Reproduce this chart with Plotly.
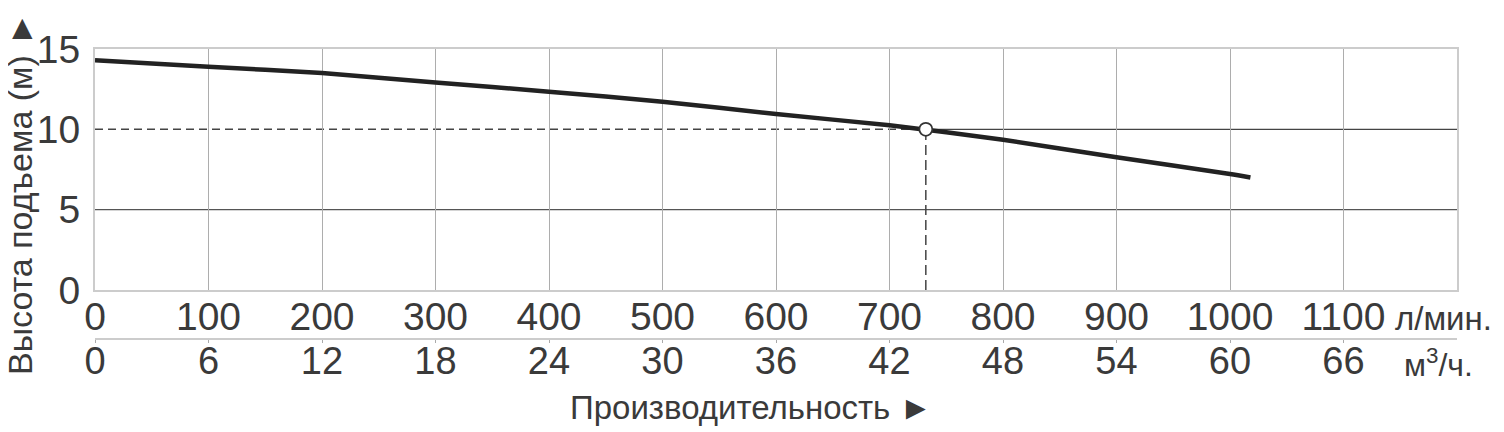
import plotly.graph_objects as go

# ---- data ----
flow_lpm = [0, 100, 200, 300, 400, 500, 600, 700, 800, 900, 1000, 1018]
head_m = [14.3, 13.9, 13.5, 12.92, 12.34, 11.72, 10.95, 10.25, 9.35, 8.26, 7.22, 7.0]

op_flow = [732]
op_head = [10]

grid_heads = [5]

x1_ticks = [0, 100, 200, 300, 400, 500, 600, 700, 800, 900, 1000, 1100]
x1_labels = [str(v) for v in x1_ticks]
x2_ticks = [0, 6, 12, 18, 24, 30, 36, 42, 48, 54, 60, 66]
x2_labels = [str(v) for v in x2_ticks]
y_ticks = [0, 5, 10, 15]

x1_range = [0, 1200]
x2_range = [0, 72]
y_range = [0, 15]

FONT = "Liberation Sans, Arial, sans-serif"
TXT = "#3a3a3a"

OFF = 8  # page body margin
W, H = 1504 - OFF, 432 - OFF


def fx(px):
    return px - OFF


ML = fx(95)
MT = fx(49)
MR = W - fx(1457)
MB = H - fx(345)
PW = W - ML - MR
PH = H - MT - MB


def px_x(px):
    return (fx(px) - ML) / PW


def px_y(py):
    return ((H - MB) - fx(py)) / PH


ydom0 = px_y(290)

fig = go.Figure()

fig.add_trace(go.Scatter(
    x=flow_lpm, y=head_m, mode="lines",
    line=dict(color="#222222", width=4.5, shape="spline", smoothing=0.6),
    hoverinfo="skip", showlegend=False, xaxis="x", yaxis="y",
))

shapes = []
for g in grid_heads:
    shapes.append(dict(type="line", xref="x", yref="y", x0=x1_range[0], x1=x1_range[1],
                       y0=g, y1=g, line=dict(color="#555555", width=1.4), layer="below"))
shapes.append(dict(type="line", xref="x", yref="y", x0=op_flow[0], x1=x1_range[1],
                   y0=op_head[0], y1=op_head[0], line=dict(color="#444444", width=1.4), layer="below"))
shapes.append(dict(type="line", xref="x", yref="y", x0=x1_range[0], x1=op_flow[0],
                   y0=op_head[0], y1=op_head[0],
                   line=dict(color="#444444", width=1.5, dash="8px,5px"), layer="below"))
shapes.append(dict(type="line", xref="x", yref="y", x0=op_flow[0], x1=op_flow[0],
                   y0=y_range[0], y1=op_head[0],
                   line=dict(color="#444444", width=1.5, dash="10px,5px"), layer="below"))

fig.add_trace(go.Scatter(
    x=op_flow, y=op_head, mode="markers",
    marker=dict(size=13, color="white", line=dict(color="#333333", width=1.8)),
    hoverinfo="skip", showlegend=False, xaxis="x", yaxis="y",
))

fig.add_trace(go.Scatter(x=x2_range, y=[None, None], mode="lines", xaxis="x2", yaxis="y",
                         showlegend=False, hoverinfo="skip"))

fig.update_layout(
    width=W, height=H,
    margin=dict(l=ML, r=MR, t=MT, b=MB, pad=0),
    paper_bgcolor="white", plot_bgcolor="white",
    font=dict(family=FONT, color=TXT),
    shapes=shapes,
    xaxis=dict(
        range=x1_range, tickmode="array", tickvals=x1_ticks, ticktext=x1_labels,
        showgrid=True, gridcolor="#adadad", gridwidth=1.4,
        showline=True, linecolor="#cccccc", linewidth=2, mirror=True,
        ticks="", zeroline=False, anchor="y",
        tickfont=dict(size=39, color=TXT, family=FONT), ticklabelstandoff=-9,
    ),
    xaxis2=dict(
        range=x2_range, tickmode="array", tickvals=x2_ticks, ticktext=x2_labels,
        overlaying="x", anchor="free", position=px_y(339), side="bottom",
        showgrid=False, zeroline=False,
        showline=True, linecolor="#cccccc", linewidth=1.5,
        ticks="outside", ticklen=3, tickcolor="#aaaaaa", tickwidth=1,
        tickfont=dict(size=38, color=TXT, family=FONT), ticklabelstandoff=-14,
    ),
    yaxis=dict(
        range=y_range, tickmode="array", tickvals=y_ticks,
        domain=[ydom0, 1],
        showgrid=False, zeroline=False,
        showline=True, linecolor="#cccccc", linewidth=2, mirror=True,
        ticks="", tickfont=dict(size=39, color=TXT, family=FONT), ticklabelstandoff=5,
    ),
    annotations=[
        dict(text="Высота подъема (м) ►", textangle=-90, xref="paper", yref="paper",
             x=px_x(20), y=px_y(194),
             xanchor="center", yanchor="middle", showarrow=False, borderpad=0,
             font=dict(size=34, color=TXT, family=FONT)),
        dict(text="Производительность ►", xref="paper", yref="paper",
             x=px_x(751), y=px_y(407),
             xanchor="center", yanchor="middle", showarrow=False, borderpad=0,
             font=dict(size=33, color=TXT, family=FONT)),
        dict(text="л/мин.", xref="paper", yref="paper",
             x=px_x(1393), y=px_y(318),
             xanchor="left", yanchor="middle", showarrow=False,
             font=dict(size=33, color=TXT, family=FONT)),
        dict(text="м<sup>3</sup>/ч.", xref="paper", yref="paper",
             x=px_x(1402), y=px_y(363),
             xanchor="left", yanchor="middle", showarrow=False,
             font=dict(size=32, color=TXT, family=FONT)),
    ],
)

fig.write_html("out.html")
